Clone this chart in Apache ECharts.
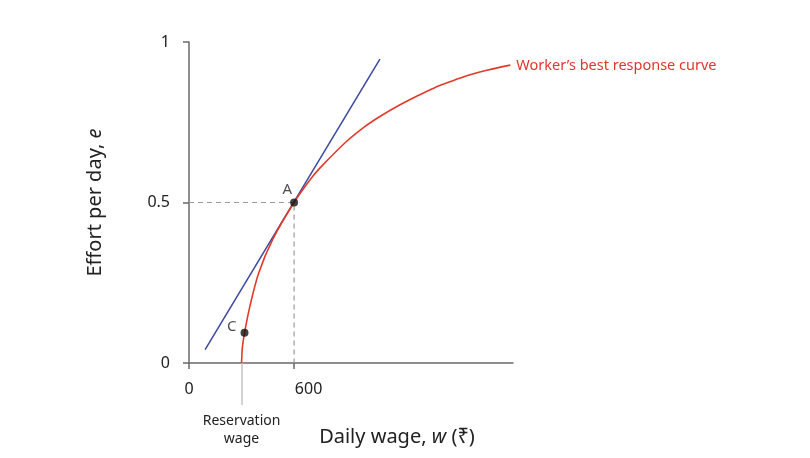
<!DOCTYPE html>
<html><head><meta charset="utf-8">
<script src="https://cdn.jsdelivr.net/npm/echarts@6/dist/echarts.min.js"></script>
<style>html,body{margin:0;padding:0;background:#fff}#c{width:810px;height:458px}</style>
</head><body><div id="c"></div>
<script>
// Worker's best response curve (wage w, effort e)
const curveW = [300, 302, 305, 317, 347, 397, 478, 600, 709, 766, 899, 1000, 1090, 1200, 1300, 1400, 1500, 1600, 1700, 1835];
const curveE = [0, 0.025, 0.05, 0.094, 0.175, 0.279, 0.385, 0.5, 0.583, 0.618, 0.690, 0.735, 0.768, 0.803, 0.831, 0.857, 0.878, 0.897, 0.912, 0.928];
// Tangent (blue) line
const tangentW = [92, 1090];
const tangentE = [0.042, 0.947];
// Labelled points
const pointNames = ['A', 'C'];
const pointW = [600, 317];
const pointE = [0.5, 0.094];
// Dashed guides to A
const guideW = [0, 600, 600];
const guideE = [0.5, 0.5, 0];
// Axis ticks
const xTicks = [0, 600];
const yTicks = [0, 0.5, 1];
const reservationWage = 300;
const curveLabel = 'Worker\u2019s best response curve';

const FONT = 'Noto Sans';
const pair = (a, b) => a.map((v, i) => [v, b[i]]);

const chart = echarts.init(document.getElementById('c'), null, {renderer: 'canvas'});
chart.setOption({
  animation: false,
  backgroundColor: '#fff',
  textStyle: {fontFamily: FONT},
  grid: {left: 189, top: 42, width: 324, height: 321, containLabel: false, outerBoundsMode: 'none'},
  xAxis: [{
    type: 'value', min: 0, max: 1850,
    name: '{t|Daily wage, }{i|w}{t| (\u20b9)}',
    nameLocation: 'middle', nameGap: 64,
    nameTextStyle: {padding: [0, 0, 0, 92],
      rich: {t: {fontSize: 20, color: '#222', fontFamily: FONT}, i: {fontSize: 20, color: '#222', fontStyle: 'italic', fontFamily: FONT}}},
    splitLine: {show: false},
    axisLine: {show: true, lineStyle: {color: '#6a6a6a', width: 1.5}},
    axisTick: {show: true, customValues: xTicks, length: 6, lineStyle: {color: '#6a6a6a', width: 1.5}},
    axisLabel: {customValues: xTicks, margin: 18, fontSize: 16, color: '#222', fontFamily: FONT,
      formatter: v => v === 0 ? '{z|0}' : '{r|' + v + '}',
      rich: {z: {fontSize: 16, color: '#222', fontFamily: FONT}, r: {fontSize: 16, color: '#222', fontFamily: FONT, padding: [0, 0, 0, 29]}}}
  }, {
    type: 'value', min: 0, max: 1850, gridIndex: 0, position: 'bottom',
    splitLine: {show: false},
    axisLine: {show: false},
    axisTick: {show: true, customValues: [reservationWage], length: 42, lineStyle: {color: '#c4c4c4', width: 1.5}},
    axisLabel: {customValues: [reservationWage], margin: 49, fontSize: 14, lineHeight: 18, color: '#222', fontFamily: FONT,
      formatter: () => 'Reservation\nwage'}
  }],
  yAxis: {
    type: 'value', min: 0, max: 1, interval: 0.5,
    name: '{t|Effort per day, }{i|e}',
    nameLocation: 'middle', nameGap: 84, nameRotate: 90,
    nameTextStyle: {rich: {t: {fontSize: 20, color: '#222', fontFamily: FONT}, i: {fontSize: 20, color: '#222', fontStyle: 'italic', fontFamily: FONT}}},
    splitLine: {show: false},
    axisLine: {show: true, lineStyle: {color: '#6a6a6a', width: 1.5}},
    axisTick: {show: true, length: 6, lineStyle: {color: '#6a6a6a', width: 1.5}},
    axisLabel: {margin: 19, fontSize: 16, color: '#222', fontFamily: FONT,
      formatter: v => (yTicks.includes(v) ? String(v) : '')}
  },
  series: [{
    type: 'line', name: 'guides', data: pair(guideW, guideE), showSymbol: false, symbol: 'none',
    lineStyle: {color: '#9a9a9a', width: 1.2, type: [5, 4]}, z: 1, silent: true
  }, {
    type: 'line', name: 'tangent', data: pair(tangentW, tangentE), showSymbol: false, symbol: 'none',
    lineStyle: {color: '#3a48a0', width: 1.5}, z: 2, silent: true
  }, {
    type: 'line', name: 'curve', data: pair(curveW, curveE), showSymbol: false, symbol: 'none',
    smooth: 0.3,
    lineStyle: {color: '#e23a28', width: 1.6}, z: 3, silent: true,
    endLabel: {show: true, formatter: () => curveLabel, color: '#e0362a', fontSize: 14.5, fontFamily: FONT, distance: 6, offset: [0, 1]}
  }, {
    type: 'scatter', name: 'points', symbolSize: 8, z: 4, silent: true,
    itemStyle: {color: '#111'},
    data: pointNames.map((n, i) => ({
      value: [pointW[i], pointE[i]], name: n,
      label: {show: true, formatter: n, fontSize: 15, color: '#222', fontFamily: FONT,
        position: 'left', distance: i === 0 ? -2 : 4,
        offset: i === 0 ? [0, -13] : [0, -6]}
    }))
  }]
});
</script>
</body></html>
